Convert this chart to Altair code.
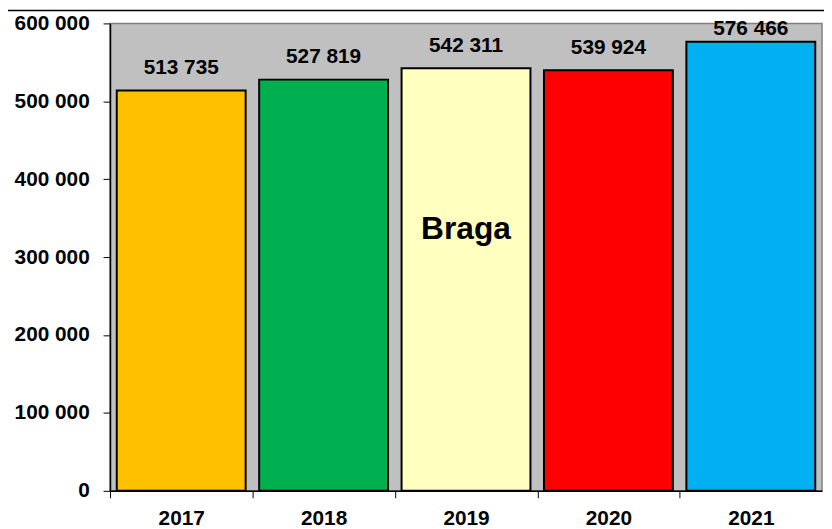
import altair as alt
import pandas as pd

years = ["2017", "2018", "2019", "2020", "2021"]
values = [513735, 527819, 542311, 539924, 576466]
colors = ["#FFC000", "#00B050", "#FFFFC0", "#FF0000", "#00B0F0"]
y_ticks = [0, 100000, 200000, 300000, 400000, 500000, 600000]
annotation_year = ["2019"]
annotation_value = [323000]
annotation_text = ["Braga"]

FONT = "Liberation Sans"

df = pd.DataFrame({
    "year": years,
    "value": values,
    "label": [f"{v:,}".replace(",", " ") for v in values],
})
ann = pd.DataFrame({"year": annotation_year, "value": annotation_value, "text": annotation_text})

x = alt.X(
    "year:N",
    sort=years,
    scale=alt.Scale(paddingInner=0.095, paddingOuter=0.0475),
    axis=alt.Axis(
        title=None, labelAngle=0, labelFont=FONT, labelFontSize=21, labelFontWeight="bold",
        labelColor="black", domainColor="black", domainWidth=1.5, tickColor="black",
        tickSize=7, bandPosition=0.5, tickOffset=-71.8, labelOffset=71.8,
        labelPadding=10, grid=False,
    ),
)
yscale = alt.Scale(domain=[0, 600000], nice=False, zero=True)

bars = alt.Chart(df).mark_bar(stroke="black", strokeWidth=2).encode(
    x=x,
    y=alt.Y(
        "value:Q",
        scale=yscale,
        axis=alt.Axis(
            title=None, values=y_ticks, grid=False, labelFont=FONT, labelFontSize=21,
            labelFontWeight="bold", labelColor="black", domainColor="black", domainWidth=1.5,
            tickColor="black", tickSize=7, labelPadding=14,
            labelExpr="replace(format(datum.value, ',d'), regexp(',', 'g'), ' ')",
        ),
    ),
    color=alt.Color("year:N", scale=alt.Scale(domain=years, range=colors), legend=None),
)

labels = alt.Chart(df).transform_calculate(
    ly="min(datum.value + 21000, 584700)"
).mark_text(
    font=FONT, fontSize=21, fontWeight="bold", color="black", baseline="alphabetic"
).encode(
    x=alt.X("year:N", sort=years),
    y=alt.Y("ly:Q", scale=yscale),
    text="label:N",
)

braga = alt.Chart(ann).mark_text(
    font=FONT, fontSize=32, fontWeight="bold", color="black", baseline="alphabetic"
).encode(
    x=alt.X("year:N", sort=years),
    y=alt.Y("value:Q", scale=yscale),
    text="text:N",
)

topline = alt.Chart(pd.DataFrame({"a": [0]})).mark_rule(color="black", strokeWidth=1.5).encode(
    x=alt.value(-110), x2=alt.value(725), y=alt.value(-13)
)

chart = alt.layer(bars, labels, braga, topline).properties(
    width=719,
    height=472,
    autosize=alt.AutoSizeParams(type="none"),
    padding={"left": 103, "top": 13, "right": 2, "bottom": 36},
).configure_view(
    fill="#C0C0C0", stroke="#808080", strokeWidth=1.5
)

chart.save("out.html", embed_options={"renderer": "svg", "actions": False})
